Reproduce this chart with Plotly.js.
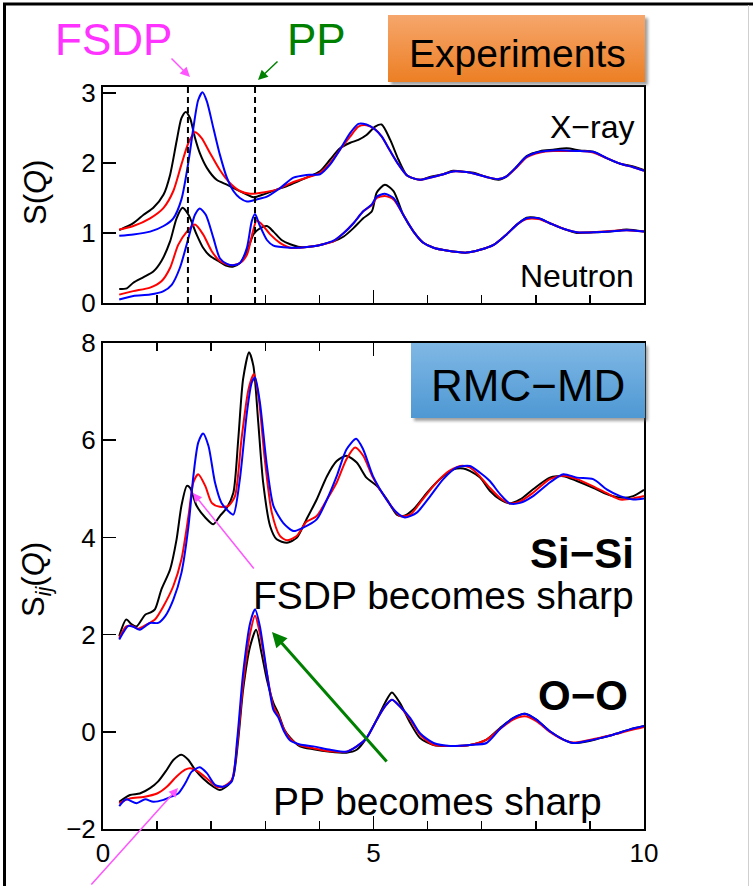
<!DOCTYPE html>
<html>
<head>
<meta charset="utf-8">
<script src="https://cdn.plot.ly/plotly-3.0.1.min.js"></script>
<style>html,body{margin:0;padding:0;background:#fff;}#chart{width:753px;height:886px;}</style>
</head>
<body>
<div id="chart"></div>
<script>
// ---------------- DATA ----------------
// Top panel: experimental S(Q), X-ray (upper) and Neutron (lower)
const xrayBlackQ = [0.30,0.56,0.75,0.93,1.12,1.24,1.36,1.45,1.53,1.61,1.70,1.79,1.92,2.10,2.29,2.47,2.66,2.78,2.96,3.21,3.46,3.76,4.01,4.20,4.38,4.57,4.72,4.87,5.03,5.15,5.31,5.46,5.61,5.74,5.86,6.04,6.29,6.47,6.72,6.85,7.09,7.31,7.46,7.65,7.83,8.08,8.32,8.57,8.82,9.06,9.31,9.56,9.80,10.0];
const xrayBlackS = [1.04,1.14,1.26,1.36,1.55,1.83,2.31,2.64,2.73,2.64,2.36,2.14,1.93,1.76,1.69,1.62,1.55,1.51,1.55,1.62,1.69,1.79,1.88,2.05,2.21,2.29,2.33,2.40,2.52,2.55,2.33,2.05,1.83,1.78,1.76,1.80,1.84,1.89,1.87,1.86,1.80,1.76,1.81,1.95,2.10,2.17,2.19,2.21,2.18,2.16,2.07,1.99,1.95,1.90];
const xrayRedQ = [0.30,0.56,0.87,1.12,1.30,1.45,1.58,1.70,1.82,1.98,2.16,2.35,2.53,2.72,2.96,3.21,3.46,3.76,4.01,4.20,4.38,4.57,4.72,4.87,5.03,5.15,5.31,5.46,5.61,5.74,5.86,6.04,6.29,6.47,6.72,6.85,7.09,7.31,7.46,7.65,7.83,8.08,8.32,8.57,8.82,9.06,9.31,9.56,9.80,10.0];
const xrayRedS = [1.05,1.10,1.21,1.36,1.60,1.98,2.29,2.44,2.36,2.14,1.90,1.71,1.60,1.56,1.58,1.62,1.71,1.79,1.86,2.00,2.19,2.38,2.52,2.54,2.48,2.38,2.17,1.98,1.83,1.78,1.76,1.79,1.84,1.88,1.87,1.85,1.80,1.77,1.81,1.94,2.08,2.15,2.17,2.17,2.17,2.15,2.07,1.99,1.94,1.89];
const xrayBlueQ = [0.30,0.56,0.87,1.12,1.30,1.45,1.58,1.67,1.76,1.84,1.92,2.04,2.16,2.29,2.41,2.53,2.66,2.84,3.03,3.27,3.52,3.76,4.01,4.20,4.38,4.57,4.72,4.87,5.03,5.15,5.31,5.46,5.61,5.74,5.86,6.04,6.29,6.47,6.72,6.85,7.09,7.31,7.46,7.65,7.83,8.08,8.32,8.57,8.82,9.06,9.31,9.56,9.80,10.0];
const xrayBlueS = [0.96,0.98,1.02,1.10,1.21,1.48,2.02,2.50,2.90,3.01,2.88,2.50,2.12,1.79,1.60,1.50,1.45,1.48,1.52,1.64,1.79,1.83,1.84,1.98,2.19,2.43,2.56,2.55,2.48,2.38,2.17,1.98,1.83,1.78,1.76,1.79,1.84,1.88,1.87,1.85,1.80,1.77,1.81,1.95,2.09,2.16,2.18,2.18,2.17,2.16,2.07,1.99,1.94,1.89];

const neutBlackQ = [0.30,0.44,0.56,0.75,0.93,1.08,1.24,1.36,1.47,1.58,1.73,1.85,1.98,2.13,2.29,2.41,2.53,2.66,2.78,2.87,3.03,3.15,3.30,3.46,3.64,3.89,4.07,4.26,4.45,4.63,4.81,4.97,5.06,5.21,5.37,5.55,5.74,5.92,6.11,6.35,6.72,6.97,7.22,7.46,7.65,7.83,8.05,8.26,8.51,8.76,9.06,9.37,9.68,10.0];
const neutBlackS = [0.20,0.21,0.29,0.37,0.45,0.60,0.88,1.21,1.36,1.26,0.98,0.79,0.67,0.60,0.53,0.52,0.57,0.74,0.98,1.05,1.10,1.02,0.90,0.84,0.80,0.81,0.84,0.88,0.95,1.07,1.21,1.31,1.58,1.69,1.60,1.26,1.02,0.86,0.79,0.75,0.72,0.76,0.83,0.98,1.12,1.22,1.21,1.14,1.06,1.00,1.01,1.02,1.05,1.02];
const neutRedQ = [0.30,0.56,0.87,1.08,1.24,1.39,1.55,1.70,1.85,2.01,2.16,2.35,2.53,2.66,2.77,2.84,2.93,3.09,3.27,3.46,3.64,3.89,4.07,4.26,4.45,4.63,4.81,4.97,5.06,5.21,5.37,5.55,5.74,5.92,6.11,6.35,6.72,6.97,7.22,7.46,7.65,7.83,8.05,8.26,8.51,8.76,9.06,9.37,9.68,10.0];
const neutRedS = [0.12,0.17,0.22,0.31,0.50,0.83,1.02,1.12,0.98,0.74,0.60,0.54,0.57,0.69,1.02,1.18,1.13,0.98,0.86,0.79,0.79,0.81,0.84,0.88,1.00,1.14,1.31,1.40,1.50,1.53,1.48,1.26,1.02,0.86,0.79,0.75,0.72,0.76,0.83,0.98,1.12,1.20,1.20,1.14,1.06,1.01,1.01,1.03,1.04,1.02];
const neutBlueQ = [0.30,0.56,0.87,1.12,1.27,1.42,1.58,1.70,1.79,1.90,2.04,2.16,2.29,2.41,2.53,2.66,2.75,2.81,2.89,3.03,3.15,3.46,3.64,3.89,4.07,4.26,4.45,4.63,4.81,4.97,5.06,5.21,5.37,5.55,5.74,5.92,6.11,6.35,6.72,6.97,7.22,7.46,7.65,7.83,8.05,8.26,8.51,8.76,9.06,9.37,9.68,10.0];
const neutBlueS = [0.05,0.10,0.12,0.17,0.26,0.50,0.93,1.26,1.35,1.26,0.93,0.64,0.56,0.54,0.57,0.79,1.17,1.27,1.12,0.90,0.82,0.79,0.79,0.81,0.84,0.89,1.00,1.14,1.31,1.41,1.52,1.56,1.50,1.26,1.02,0.86,0.79,0.75,0.72,0.76,0.83,0.98,1.12,1.21,1.21,1.14,1.06,1.01,1.01,1.02,1.04,1.02];

// Bottom panel: RMC-MD partial structure factors, Si-Si (upper) and O-O (lower)
const sisiBlackQ = [0.30,0.43,0.53,0.62,0.78,0.87,0.96,1.08,1.24,1.36,1.45,1.55,1.61,1.73,1.89,2.04,2.16,2.29,2.41,2.50,2.59,2.70,2.78,2.87,2.96,3.09,3.21,3.40,3.58,3.76,3.95,4.14,4.32,4.50,4.69,4.87,5.06,5.25,5.43,5.55,5.74,5.99,6.23,6.48,6.66,6.78,6.97,7.15,7.34,7.52,7.71,7.95,8.26,8.51,8.76,9.06,9.31,9.56,9.80,10.0];
const sisiBlackS = [1.97,2.31,2.21,2.17,2.41,2.45,2.52,2.93,3.34,3.96,4.65,5.06,5.02,4.65,4.41,4.27,4.44,4.61,4.92,6.02,7.26,7.81,7.53,6.36,5.13,4.23,3.96,3.89,3.99,4.37,4.78,5.26,5.57,5.68,5.54,5.23,5.06,4.78,4.47,4.44,4.58,4.92,5.20,5.40,5.42,5.37,5.23,4.96,4.78,4.70,4.78,4.99,5.23,5.26,5.16,5.02,4.89,4.82,4.85,4.98];
const sisiRedQ = [0.30,0.43,0.53,0.65,0.81,0.96,1.12,1.30,1.45,1.58,1.67,1.76,1.89,2.01,2.16,2.32,2.44,2.56,2.69,2.79,2.88,2.99,3.12,3.27,3.40,3.58,3.76,3.95,4.14,4.32,4.50,4.66,4.81,4.99,5.24,5.49,5.68,5.86,6.11,6.35,6.60,6.78,6.97,7.15,7.34,7.52,7.71,7.95,8.26,8.51,8.76,9.06,9.31,9.56,9.80,10.0];
const sisiRedS = [1.93,2.17,2.18,2.12,2.21,2.31,2.59,3.00,3.55,4.44,5.13,5.30,5.06,4.71,4.63,4.65,4.85,6.02,7.05,7.36,6.85,5.61,4.51,4.03,3.94,4.03,4.32,4.44,4.78,5.13,5.61,5.85,5.68,5.23,4.78,4.44,4.47,4.71,5.06,5.33,5.47,5.44,5.25,5.02,4.81,4.70,4.74,4.92,5.20,5.27,5.20,5.05,4.91,4.78,4.80,4.85];
const sisiBlueQ = [0.30,0.47,0.56,0.68,0.87,1.02,1.15,1.30,1.45,1.58,1.67,1.76,1.85,1.95,2.07,2.19,2.32,2.41,2.53,2.66,2.75,2.81,2.90,3.03,3.15,3.33,3.52,3.70,3.95,4.14,4.32,4.50,4.68,4.81,4.99,5.24,5.43,5.58,5.80,6.05,6.29,6.54,6.78,6.97,7.15,7.34,7.52,7.71,7.95,8.26,8.51,8.76,9.06,9.31,9.56,9.80,10.0];
const sisiBlueS = [1.90,2.18,2.16,2.10,2.24,2.24,2.38,2.72,3.27,4.23,5.26,5.95,6.14,5.88,5.13,4.71,4.54,4.47,5.20,6.57,7.19,7.29,6.78,5.47,4.65,4.30,4.13,4.20,4.37,4.78,5.26,5.81,6.03,5.81,5.26,4.78,4.51,4.41,4.51,4.85,5.20,5.44,5.47,5.33,5.16,4.89,4.70,4.71,4.85,5.13,5.30,5.23,5.20,4.99,4.85,4.78,4.80];

const ooBlackQ = [0.30,0.50,0.68,0.87,1.02,1.18,1.30,1.45,1.58,1.70,1.85,2.04,2.16,2.32,2.41,2.50,2.59,2.72,2.83,2.93,3.03,3.15,3.24,3.35,3.46,3.64,3.89,4.20,4.50,4.69,4.87,5.06,5.21,5.34,5.49,5.68,5.86,6.11,6.42,6.78,7.09,7.34,7.58,7.80,8.01,8.26,8.51,8.69,8.94,9.19,9.43,9.74,10.0];
const ooBlackS = [-1.44,-1.30,-1.27,-1.16,-1.02,-0.78,-0.58,-0.47,-0.58,-0.78,-0.96,-1.13,-1.20,-1.09,-0.92,-0.16,0.87,1.76,2.10,1.62,1.07,0.59,0.38,0.05,-0.12,-0.30,-0.36,-0.41,-0.43,-0.37,-0.13,0.25,0.59,0.81,0.59,0.18,-0.13,-0.27,-0.29,-0.27,-0.16,0.08,0.28,0.37,0.25,0.01,-0.16,-0.23,-0.20,-0.13,-0.06,0.05,0.12];
const ooRedQ = [0.30,0.50,0.75,1.00,1.18,1.36,1.52,1.61,1.76,1.92,2.10,2.22,2.38,2.49,2.59,2.72,2.81,2.90,3.03,3.15,3.24,3.35,3.46,3.64,3.89,4.20,4.50,4.69,4.87,5.06,5.21,5.34,5.49,5.68,5.86,6.11,6.42,6.78,7.09,7.34,7.58,7.80,8.01,8.26,8.51,8.69,8.94,9.19,9.43,9.74,10.0];
const ooRedS = [-1.47,-1.37,-1.34,-1.27,-1.13,-0.92,-0.78,-0.75,-0.82,-0.96,-1.13,-1.13,-0.99,-0.16,1.00,2.03,2.39,2.03,1.20,0.52,0.34,0.04,-0.14,-0.28,-0.34,-0.40,-0.41,-0.30,-0.13,0.25,0.52,0.66,0.52,0.25,-0.06,-0.27,-0.29,-0.27,-0.16,0.06,0.25,0.32,0.22,0.00,-0.16,-0.22,-0.18,-0.12,-0.06,0.03,0.10];
const ooBlueQ = [0.30,0.43,0.62,0.78,0.93,1.12,1.27,1.39,1.52,1.64,1.79,1.92,2.07,2.22,2.38,2.48,2.59,2.72,2.81,2.90,3.03,3.15,3.24,3.35,3.46,3.64,3.89,4.20,4.50,4.69,4.87,5.06,5.21,5.34,5.49,5.68,5.86,6.11,6.42,6.78,7.09,7.34,7.58,7.80,8.01,8.26,8.51,8.69,8.94,9.19,9.43,9.74,10.0];
const ooBlueS = [-1.53,-1.39,-1.47,-1.39,-1.44,-1.40,-1.33,-1.27,-1.06,-0.82,-0.73,-0.85,-1.09,-1.13,-1.02,-0.16,1.21,2.24,2.52,2.17,1.21,0.45,0.30,0.00,-0.18,-0.26,-0.30,-0.37,-0.41,-0.30,-0.13,0.25,0.52,0.66,0.52,0.28,-0.03,-0.23,-0.29,-0.27,-0.23,0.06,0.28,0.37,0.25,0.01,-0.16,-0.23,-0.19,-0.13,-0.06,0.05,0.12];

// Q positions of the dashed guide lines (FSDP, PP)
const guideQ = [1.57, 2.81];
const xTickVals = [0, 5, 10];
const topYTicks = [0, 1, 2, 3];
const botYTicks = [-2, 0, 2, 4, 6, 8];

// ---------------- FIGURE ----------------
const W = 753, H = 886;
const px = v => v / W;            // pixel -> paper x
const py = v => 1 - v / H;        // pixel -> paper y
const FONT = 'Liberation Sans, Arial, sans-serif';

function line(q, s, color, xa, ya) {
  return {x: q, y: s, type: 'scatter', mode: 'lines', xaxis: xa, yaxis: ya,
    line: {color: color, width: 2, shape: 'spline', smoothing: 0.7}, hoverinfo: 'skip', showlegend: false};
}

const traces = [
  line(xrayBlackQ, xrayBlackS, '#000000', 'x', 'y'),
  line(xrayRedQ, xrayRedS, '#ff0000', 'x', 'y'),
  line(xrayBlueQ, xrayBlueS, '#0000ff', 'x', 'y'),
  line(neutBlackQ, neutBlackS, '#000000', 'x', 'y'),
  line(neutRedQ, neutRedS, '#ff0000', 'x', 'y'),
  line(neutBlueQ, neutBlueS, '#0000ff', 'x', 'y'),
  line(sisiBlackQ, sisiBlackS, '#000000', 'x2', 'y2'),
  line(sisiRedQ, sisiRedS, '#ff0000', 'x2', 'y2'),
  line(sisiBlueQ, sisiBlueS, '#0000ff', 'x2', 'y2'),
  line(ooBlackQ, ooBlackS, '#000000', 'x2', 'y2'),
  line(ooRedQ, ooRedS, '#ff0000', 'x2', 'y2'),
  line(ooBlueQ, ooBlueS, '#0000ff', 'x2', 'y2')
];

const xdom = [px(103), px(644)];
const axisCommon = {showgrid: false, zeroline: false, showline: true, linecolor: '#000', linewidth: 2,
  ticks: 'inside', tickcolor: '#000', tickwidth: 1.5, tickfont: {family: FONT, size: 26, color: '#000'}, fixedrange: true};

function boxSvg(w, h, c1, c2) {
  const s = `<svg xmlns="http://www.w3.org/2000/svg" width="${w+7}" height="${h+7}" viewBox="0 0 ${w+7} ${h+7}">` +
    `<defs><linearGradient id="g" x1="0" y1="0" x2="0" y2="1"><stop offset="0" stop-color="${c1}"/><stop offset="1" stop-color="${c2}"/></linearGradient>` +
    `<filter id="f" x="-10%" y="-10%" width="130%" height="130%"><feGaussianBlur stdDeviation="1.6"/></filter></defs>` +
    `<rect x="3" y="3" width="${w}" height="${h}" fill="#555" opacity="0.55" filter="url(#f)"/>` +
    `<rect x="0" y="0" width="${w}" height="${h}" fill="url(#g)"/></svg>`;
  return 'data:image/svg+xml;charset=utf-8,' + encodeURIComponent(s);
}

const layout = {
  width: W, height: H,
  margin: {l: 0, r: 0, t: 0, b: 0, pad: 0},
  paper_bgcolor: '#fff', plot_bgcolor: '#fff',
  showlegend: false,
  font: {family: FONT, color: '#000'},
  xaxis: Object.assign({}, axisCommon, {domain: xdom, anchor: 'y', range: [0, 10], tickvals: xTickVals,
    ticklen: 13, showticklabels: false, mirror: true,
    minor: {dtick: 1, tick0: 0, ticks: 'inside', ticklen: 8, tickcolor: '#000', tickwidth: 1.5}}),
  yaxis: Object.assign({}, axisCommon, {domain: [py(303), py(87)], anchor: 'x', range: [0, 3.086],
    tickvals: topYTicks, ticklen: 13, mirror: true}),
  xaxis2: Object.assign({}, axisCommon, {domain: xdom, anchor: 'y2', range: [0, 10], tickvals: xTickVals,
    ticklen: 13, mirror: 'ticks',
    minor: {dtick: 1, tick0: 0, ticks: 'inside', ticklen: 8, tickcolor: '#000', tickwidth: 1.5}}),
  yaxis2: Object.assign({}, axisCommon, {domain: [py(829), py(343)], anchor: 'x2', range: [-2, 8],
    tickvals: botYTicks, ticklen: 13, mirror: true}),
  shapes: [
    ...guideQ.map(q => ({type: 'line', xref: 'x', yref: 'y domain', x0: q, x1: q, y0: 0, y1: 1,
      line: {color: '#000', width: 2, dash: '6px,4px'}})),
    // outer frame of the figure
    {type: 'line', xref: 'paper', yref: 'paper', x0: px(4.5), x1: px(4.5), y0: 0, y1: py(3),
      line: {color: '#000', width: 3}},
    {type: 'line', xref: 'paper', yref: 'paper', x0: px(3), x1: 1, y0: py(4), y1: py(4),
      line: {color: '#000', width: 3}},
    {type: 'line', xref: 'paper', yref: 'paper', x0: px(748.5), x1: px(748.5), y0: 0, y1: py(5),
      line: {color: '#cfcfcf', width: 1}}
  ],
  images: [
    {source: boxSvg(257, 67, '#F6A66C', '#EC7F24'), xref: 'paper', yref: 'paper', x: px(388), y: py(15),
      sizex: 264 / W, sizey: 74 / H, xanchor: 'left', yanchor: 'top', sizing: 'stretch', layer: 'above'},
    {source: boxSvg(234, 75, '#80B8E5', '#4E98D3'), xref: 'paper', yref: 'paper', x: px(411), y: py(343),
      sizex: 241 / W, sizey: 82 / H, xanchor: 'left', yanchor: 'top', sizing: 'stretch', layer: 'above'}
  ],
  annotations: [
    {text: 'FSDP', xref: 'paper', yref: 'paper', x: px(113), y: py(40), showarrow: false,
      font: {family: FONT, size: 44, color: '#FF33FF'}, xanchor: 'center', yanchor: 'middle'},
    {text: 'PP', xref: 'paper', yref: 'paper', x: px(316), y: py(40), showarrow: false,
      font: {family: FONT, size: 44, color: '#008000'}, xanchor: 'center', yanchor: 'middle'},
    {text: '', xref: 'paper', yref: 'paper', x: px(190), y: py(77), ax: -20, ay: -20, showarrow: true,
      arrowhead: 2, arrowsize: 1.3, arrowwidth: 1.5, arrowcolor: '#FF55FF', standoff: 0},
    {text: '', xref: 'paper', yref: 'paper', x: px(258), y: py(80), ax: 21, ay: -20, showarrow: true,
      arrowhead: 2, arrowsize: 1.3, arrowwidth: 1.5, arrowcolor: '#008000', standoff: 0},
    {text: 'Experiments', xref: 'paper', yref: 'paper', x: px(517), y: py(53), showarrow: false,
      font: {family: FONT, size: 39, color: '#000'}, xanchor: 'center', yanchor: 'middle'},
    {text: 'X\u2212ray', xref: 'paper', yref: 'paper', x: px(636), y: py(127), showarrow: false,
      font: {family: FONT, size: 32, color: '#000'}, xanchor: 'right', yanchor: 'middle'},
    {text: 'Neutron', xref: 'paper', yref: 'paper', x: px(636), y: py(276), showarrow: false,
      font: {family: FONT, size: 32, color: '#000'}, xanchor: 'right', yanchor: 'middle'},
    {text: 'S(<i>Q</i>)', xref: 'paper', yref: 'paper', x: px(36), y: py(193), showarrow: false, textangle: -90,
      font: {family: FONT, size: 31, color: '#000'}, xanchor: 'center', yanchor: 'middle'},
    {text: 'S<sub><i>ij</i></sub>(<i>Q</i>)', xref: 'paper', yref: 'paper', x: px(36), y: py(580), showarrow: false, textangle: -90,
      font: {family: FONT, size: 31, color: '#000'}, xanchor: 'center', yanchor: 'middle'},
    {text: 'RMC\u2212MD', xref: 'paper', yref: 'paper', x: px(528), y: py(386), showarrow: false,
      font: {family: FONT, size: 44, color: '#000'}, xanchor: 'center', yanchor: 'middle'},
    {text: '<b>Si\u2212Si</b>', xref: 'paper', yref: 'paper', x: px(636), y: py(553), showarrow: false,
      font: {family: FONT, size: 42, color: '#000'}, xanchor: 'right', yanchor: 'middle'},
    {text: 'FSDP becomes sharp', xref: 'paper', yref: 'paper', x: px(636), y: py(595), showarrow: false,
      font: {family: FONT, size: 39, color: '#000'}, xanchor: 'right', yanchor: 'middle'},
    {text: '<b>O\u2212O</b>', xref: 'paper', yref: 'paper', x: px(630), y: py(695), showarrow: false,
      font: {family: FONT, size: 42, color: '#000'}, xanchor: 'right', yanchor: 'middle'},
    {text: 'PP becomes sharp', xref: 'paper', yref: 'paper', x: px(604), y: py(801), showarrow: false,
      font: {family: FONT, size: 39, color: '#000'}, xanchor: 'right', yanchor: 'middle'},
    {text: '', xref: 'paper', yref: 'paper', x: px(193), y: py(493), ax: 62, ay: 77, showarrow: true,
      arrowhead: 2, arrowsize: 1.2, arrowwidth: 1.5, arrowcolor: '#FF55FF', standoff: 0},
    {text: '', xref: 'paper', yref: 'paper', x: px(272), y: py(632), ax: 116, ay: 131, showarrow: true,
      arrowhead: 2, arrowsize: 1, arrowwidth: 3, arrowcolor: '#008000', standoff: 0},
    {text: '', xref: 'paper', yref: 'paper', x: px(178), y: py(788), ax: -88, ay: 102, showarrow: true,
      arrowhead: 2, arrowsize: 1.2, arrowwidth: 1.5, arrowcolor: '#FF55FF', standoff: 0}
  ]
};

Plotly.newPlot('chart', traces, layout, {staticPlot: true, displayModeBar: false});
</script>
</body>
</html>
